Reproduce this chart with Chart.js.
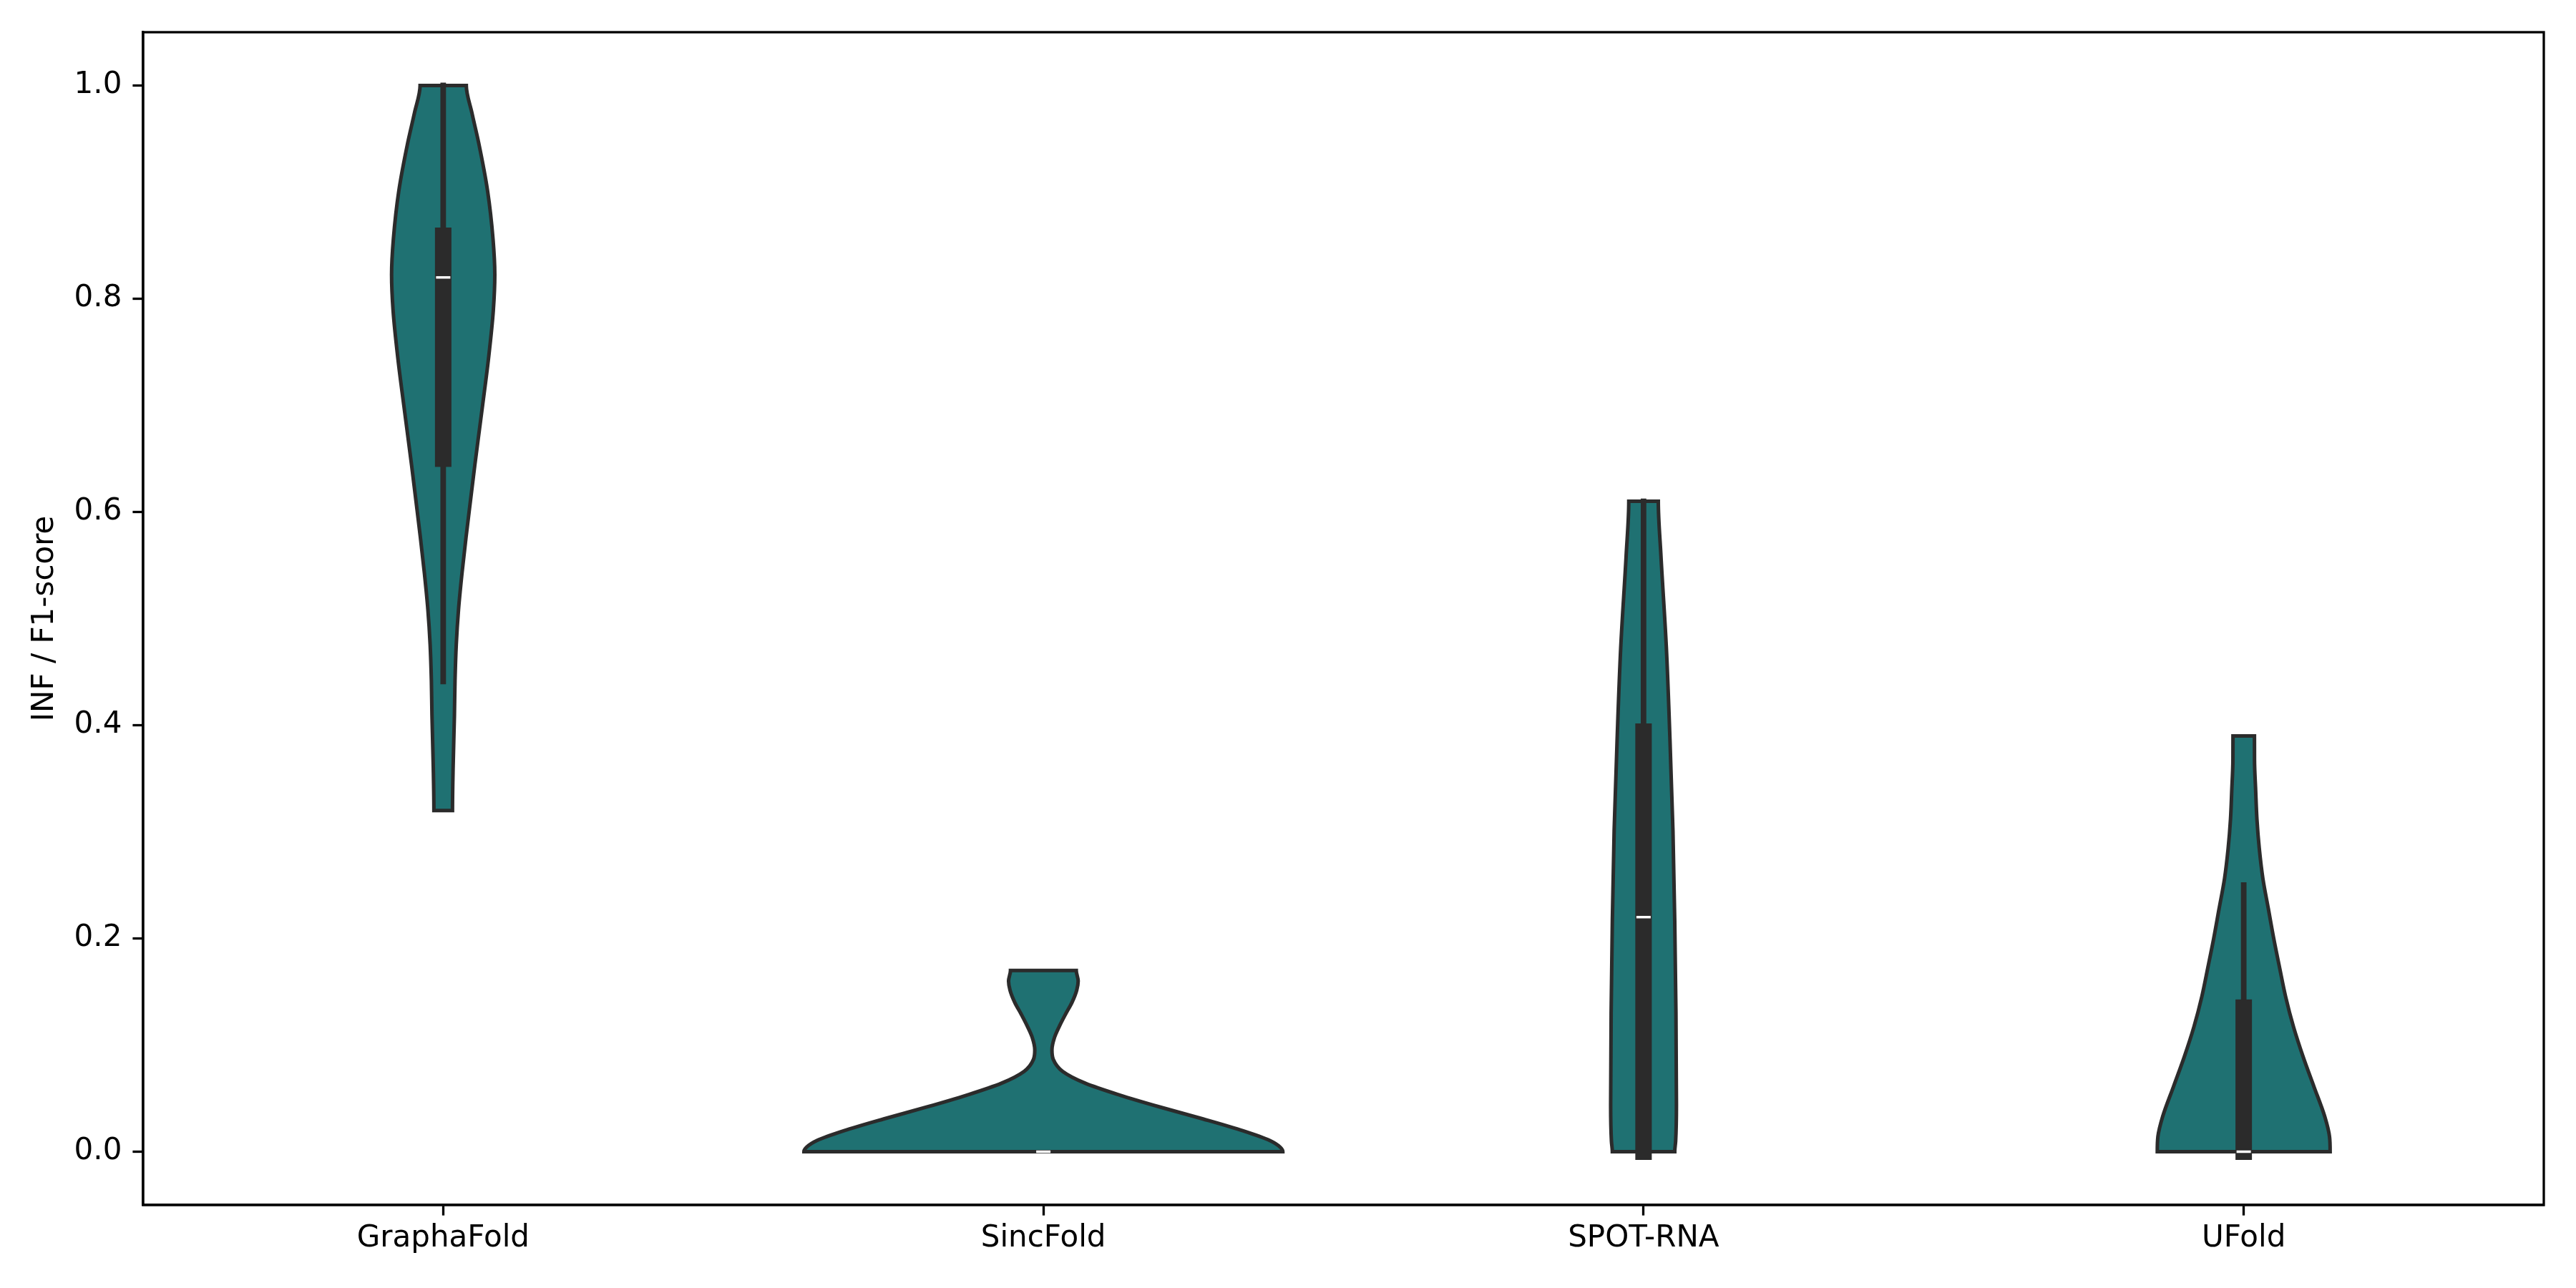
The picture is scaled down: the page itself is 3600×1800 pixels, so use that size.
<!DOCTYPE html>
<html>
<head>
<meta charset="utf-8">
<script src="https://cdn.jsdelivr.net/npm/chart.js@4.4.1/dist/chart.umd.min.js"></script>
<style>
  html, body { margin: 0; padding: 0; background: #ffffff; }
  #wrap { width: 3600px; height: 1800px; }
</style>
</head>
<body>
<div id="wrap"><canvas id="chart" width="3600" height="1800"></canvas></div>
<script>
// ---- data ----
const categories = ['GraphaFold', 'SincFold', 'SPOT-RNA', 'UFold'];
const yTicks = [0.0, 0.2, 0.4, 0.6, 0.8, 1.0];
const yTickLabels = ['0.0', '0.2', '0.4', '0.6', '0.8', '1.0'];
const yAxisTitle = 'INF / F1-score';

// violin profiles: score values and density half-widths (in category units)
const graphaFoldValues = [0.32, 0.36, 0.409, 0.442, 0.476, 0.509, 0.543, 0.5765, 0.610, 0.644, 0.677, 0.6995, 0.744, 0.789, 0.8226, 0.856, 0.901, 0.946, 0.974, 1.0];
const graphaFoldWidths = [0.0155, 0.0165, 0.0187, 0.0197, 0.0218, 0.0256, 0.0314, 0.0381, 0.0453, 0.0527, 0.0603, 0.0655, 0.0755, 0.0835, 0.086, 0.083, 0.074, 0.0592, 0.048, 0.0385];

const sincFoldValues = [0, 0.004, 0.0105, 0.0195, 0.0307, 0.0418, 0.053, 0.0642, 0.0754, 0.0866, 0.0955, 0.1067, 0.118, 0.129, 0.140, 0.1515, 0.160, 0.17];
const sincFoldWidths = [0.399, 0.395, 0.377, 0.333, 0.266, 0.195, 0.128, 0.07, 0.032, 0.0165, 0.0143, 0.0183, 0.027, 0.037, 0.0477, 0.0556, 0.058, 0.0548];

const spotRnaValues = [0, 0.0099, 0.044, 0.130, 0.216, 0.301, 0.387, 0.473, 0.559, 0.61];
const spotRnaWidths = [0.052, 0.0535, 0.0548, 0.054, 0.052, 0.049, 0.044, 0.038, 0.029, 0.0246];

const uFoldValues = [0, 0.014, 0.033, 0.061, 0.089, 0.117, 0.145, 0.172, 0.200, 0.228, 0.256, 0.284, 0.312, 0.339, 0.367, 0.39];
const uFoldWidths = [0.144, 0.143, 0.135, 0.117, 0.099, 0.083, 0.070, 0.060, 0.050, 0.041, 0.032, 0.026, 0.022, 0.0199, 0.018, 0.0179];

// box statistics
const medians = [0.82, 0.0, 0.22, 0.0];
const q1 = [0.65, 0.0, 0.0, 0.0];
const q3 = [0.859, 0.0, 0.394, 0.135];
const whiskerLow = [0.441, 0.0, 0.0, 0.0];
const whiskerHigh = [1.0, 0.0, 0.61, 0.25];

// ---- styles ----
const FILL = '#1f7172';
const EDGE = '#2b2b2b';
const FONT = 'DejaVu Sans';

const profiles = [
  [graphaFoldValues, graphaFoldWidths],
  [sincFoldValues, sincFoldWidths],
  [spotRnaValues, spotRnaWidths],
  [uFoldValues, uFoldWidths]
];

function violinOutline(i, values, widths) {
  const right = values.map((v, k) => ({x: i + widths[k], y: v}));
  const left = values.map((v, k) => ({x: i - widths[k], y: v})).reverse();
  const base = {x: i, y: values[0]};
  return [base].concat(right, left, [{x: i, y: values[0]}]);
}

const datasets = [];
profiles.forEach(([vals, wids], i) => {
  datasets.push({
    data: violinOutline(i, vals, wids),
    indexAxis: 'y',
    fill: 'shape',
    backgroundColor: FILL,
    borderColor: EDGE,
    borderWidth: 5,
    borderJoinStyle: 'miter',
    pointRadius: 0,
    cubicInterpolationMode: 'monotone',
    order: 4
  });
});
categories.forEach((c, i) => {
  if (whiskerHigh[i] > whiskerLow[i]) {
    datasets.push({
      data: [{x: i, y: whiskerLow[i]}, {x: i, y: whiskerHigh[i]}],
      indexAxis: 'y',
      fill: false,
      borderColor: EDGE,
      borderWidth: 7.8,
      borderCapStyle: 'square',
      pointRadius: 0,
      order: 3
    });
  }
  if (q3[i] > q1[i]) {
    datasets.push({
      data: [{x: i, y: q1[i]}, {x: i, y: q3[i]}],
      indexAxis: 'y',
      fill: false,
      borderColor: EDGE,
      borderWidth: 23,
      borderCapStyle: 'square',
      pointRadius: 0,
      order: 2
    });
  }
  datasets.push({
    data: [{x: i, y: medians[i]}],
    indexAxis: 'y',
    showLine: false,
    fill: false,
    pointStyle: 'line',
    pointRadius: 10,
    pointBorderWidth: 3.5,
    pointBorderColor: '#ffffff',
    pointBackgroundColor: '#ffffff',
    order: 1
  });
});

const framePlugin = {
  id: 'frame',
  afterDraw(chart) {
    const {ctx, chartArea: a} = chart;
    ctx.save();
    ctx.strokeStyle = '#000000';
    ctx.lineWidth = 3.3;
    ctx.strokeRect(a.left, a.top, a.right - a.left, a.bottom - a.top);
    ctx.restore();
  }
};

new Chart(document.getElementById('chart'), {
  type: 'line',
  data: {datasets},
  plugins: [framePlugin],
  options: {
    indexAxis: 'y',
    responsive: false,
    animation: false,
    devicePixelRatio: 1,
    events: [],
    layout: {padding: {top: 45, right: 45, left: 0, bottom: 0}},
    plugins: {legend: {display: false}, tooltip: {enabled: false}},
    scales: {
      x: {
        type: 'linear',
        position: 'bottom',
        min: -0.5,
        max: 3.5,
        afterBuildTicks: s => { s.ticks = categories.map((c, i) => ({value: i})); },
        afterFit: s => { s.height = 116; },
        ticks: {
          callback: v => categories[v],
          font: {family: FONT, size: 42},
          color: '#000000',
          padding: 7,
          maxRotation: 0,
          autoSkip: false
        },
        grid: {drawOnChartArea: false, drawTicks: true, tickLength: 14.6, tickWidth: 3.3, tickColor: '#000000'},
        border: {display: true, color: '#000000', width: 3.3}
      },
      y: {
        type: 'linear',
        position: 'left',
        min: -0.05,
        max: 1.05,
        afterBuildTicks: s => { s.ticks = yTicks.map(v => ({value: v})); },
        afterFit: s => { s.width = 200; },
        ticks: {
          callback: (v, idx) => yTickLabels[idx],
          font: {family: FONT, size: 42},
          color: '#000000',
          padding: 15,
          autoSkip: false
        },
        title: {
          display: true,
          text: yAxisTitle,
          font: {family: FONT, size: 42},
          color: '#000000',
          padding: {top: 38, bottom: 0}
        },
        grid: {drawOnChartArea: false, drawTicks: true, tickLength: 14.6, tickWidth: 3.3, tickColor: '#000000'},
        border: {display: true, color: '#000000', width: 3.3}
      }
    }
  }
});
</script>
</body>
</html>
